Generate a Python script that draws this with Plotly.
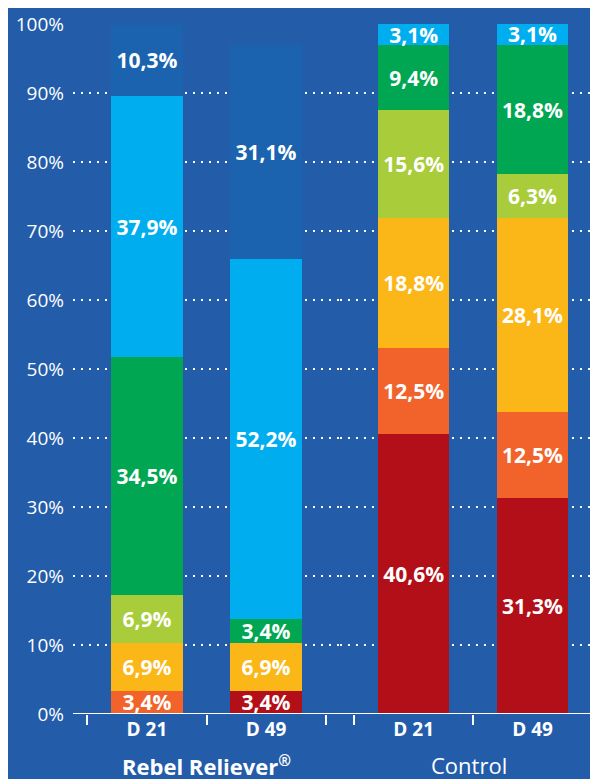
import plotly.graph_objects as go

# data
groups = ["Rebel Reliever<sup>®</sup>", "Control"]
days = ["D 21", "D 49"]

# stacked levels, bottom to top (percent of animals), per group: [D 21, D 49]
levels = ["L1", "L2", "L3", "L4", "L5", "L6", "L7"]
rebel = {
    "L1": [None, 3.4],
    "L2": [3.4, None],
    "L3": [6.9, 6.9],
    "L4": [6.9, None],
    "L5": [34.5, 3.4],
    "L6": [37.9, 52.2],
    "L7": [10.3, 31.1],
}
control = {
    "L1": [40.6, 31.3],
    "L2": [12.5, 12.5],
    "L3": [18.8, 28.1],
    "L4": [15.6, 6.3],
    "L5": [9.4, 18.8],
    "L6": [3.1, 3.1],
    "L7": [None, None],
}
level_colors = {
    "L1": "#b20f18",
    "L2": "#f1632a",
    "L3": "#fbb617",
    "L4": "#a8cc3a",
    "L5": "#00a651",
    "L6": "#00aeef",
    "L7": "#1b63ae",
}

bg = "#235ca9"
font = "Open Sans"

fig = go.Figure()

for axis, data in [("x", rebel), ("x2", control)]:
    yax = "y" if axis == "x" else "y2"
    for lv in levels:
        vals = data[lv]
        if all(v is None for v in vals):
            continue
        fig.add_trace(go.Bar(
            x=days, y=vals, xaxis=axis, yaxis=yax,
            marker=dict(color=level_colors[lv], line=dict(width=0)),
            width=0.6,
            texttemplate="%{y:.1f}%",
            textposition="inside",
            insidetextanchor="middle",
            constraintext="none",
            textangle=0,
            textfont=dict(family=font, size=21, color="white", weight="bold"),
            showlegend=False,
        ))

grid = dict(showgrid=True, gridcolor="white", gridwidth=2, griddash="2px,6px",
            range=[0, 100], zeroline=False)
xtick = dict(type="category", tickson="boundaries", ticks="outside", ticklen=10,
             tickwidth=2, tickcolor="white", showgrid=False, showline=False,
             ticklabelstandoff=2,
             tickfont=dict(family=font, size=19, color="white", weight="bold"))

# page body adds an 8px margin, so the figure is sized 8px smaller
fig.update_layout(
    barmode="stack",
    width=590, height=771,
    margin=dict(l=65, r=0, t=16, b=65),
    paper_bgcolor=bg, plot_bgcolor=bg,
    separators=",.",
    font=dict(family=font, color="white"),
    xaxis=dict(domain=[0, 0.5086], range=[-0.62, 1.62], **xtick),
    xaxis2=dict(domain=[0.5086, 1], range=[-0.62, 1.55], **xtick),
    yaxis=dict(**grid, tickvals=list(range(0, 101, 10)),
               ticktext=[f"{v}%" for v in range(0, 101, 10)],
               ticklabelstandoff=8,
               tickfont=dict(family=font, size=19, color="white")),
    yaxis2=dict(**grid, anchor="x2", matches="y", tickvals=list(range(0, 101, 10)),
                showticklabels=False),
    shapes=[dict(type="line", xref="paper", yref="y", x0=0, x1=0.9886, y0=0, y1=0,
                 line=dict(color="white", width=2), layer="above")],
    annotations=[
        dict(text=groups[0], xref="x domain", yref="paper", x=0.5, y=-0.074,
             showarrow=False, yanchor="middle",
             font=dict(family=font, size=22, color="white", weight="bold")),
        dict(text=groups[1], xref="x2 domain", yref="paper", x=0.5, y=-0.074,
             showarrow=False, yanchor="middle",
             font=dict(family=font, size=22, color="white")),
    ],
)

fig.write_html("out.html")
